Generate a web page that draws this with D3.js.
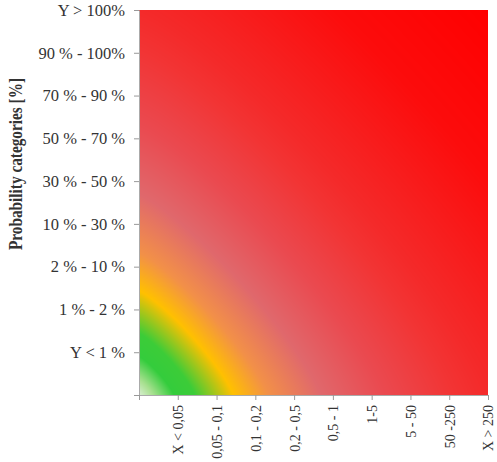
<!DOCTYPE html>
<html><head><meta charset="utf-8">
<script src="https://cdn.jsdelivr.net/npm/d3@7"></script>
<style>
html,body{margin:0;padding:0;background:#fff;}
text{font-family:"Liberation Serif","Times New Roman",serif;fill:#333;}
</style></head>
<body>
<svg id="c" width="497" height="462"></svg>
<script>
// Data
const xCategories = ["X < 0,05","0,05 - 0,1","0,1 - 0,2","0,2 - 0,5","0,5 - 1","1-5","5 - 50","50 -250","X > 250"];
const yCategories = ["Y < 1 %","1 % - 2 %","2 % - 10 %","10 % - 30 %","30 % - 50 %","50 % - 70 %","70 % - 90 %","90 % - 100%","Y > 100%"];
const yTitle = "Probability categories [%]";
// risk colour scale: combined (x,y) severity from the low/low corner -> colour
const riskLevels = [0, 0.04, 0.1, 0.16, 0.27, 0.37, 0.52, 0.7, 0.9, 1.0, 1.4, 1.78];
const riskColors = ["#d8eed0","#a8e090","#34cc3c","#3ccc38","#ffc000","#f29048","#e0686c","#ea4a50","#f23434","#f42a2a","#fc0c0c","#ff0000"];
const riskExponent = 1.2;

const svg = d3.select("#c");
const pLeft = 139, pRight = 488, pTop = 10, pBottom = 395;

const x = d3.scalePoint().domain([""].concat(xCategories)).range([pLeft, pRight]);
const y = d3.scalePoint().domain([""].concat(yCategories)).range([pBottom, pTop]);

const x0 = x(""), x1 = x(xCategories[xCategories.length-1]);
const y0 = y(""), y1 = y(yCategories[yCategories.length-1]);
const W = Math.round(x1 - x0), H = Math.round(y0 - y1);

// normalised position scales inside the plot
const u = d3.scaleLinear().domain([x0, x1]).range([0, 1]);
const v = d3.scaleLinear().domain([y0, y1]).range([0, 1]);
const color = d3.scaleLinear().domain(riskLevels).range(riskColors)
  .interpolate(d3.interpolateRgb).clamp(true);

const cv = document.createElement("canvas");
cv.width = W; cv.height = H;
const ctx = cv.getContext("2d");
const img = ctx.createImageData(W, H);
for (let j = 0; j < H; j++) {
  const vy = v(y1 + j + 0.5);
  for (let i = 0; i < W; i++) {
    const ux = u(x0 + i + 0.5);
    const r = Math.pow(Math.pow(ux, riskExponent) + Math.pow(vy, riskExponent), 1 / riskExponent);
    const c = d3.rgb(color(r));
    const k = (j * W + i) * 4;
    img.data[k] = c.r; img.data[k+1] = c.g; img.data[k+2] = c.b; img.data[k+3] = 255;
  }
}
ctx.putImageData(img, 0, 0);

svg.append("image")
  .attr("x", x0).attr("y", y1).attr("width", W).attr("height", H)
  .attr("preserveAspectRatio","none")
  .attr("href", cv.toDataURL("image/png"));

// Y axis
const yAxis = svg.append("g").attr("transform",`translate(${pLeft},0)`)
  .call(d3.axisLeft(y).tickSize(5).tickPadding(9).tickSizeOuter(0));
yAxis.selectAll("text").attr("font-size","16.5px").attr("fill","#333")
  .attr("font-family","Liberation Serif, serif");
yAxis.select(".domain").attr("stroke","#aaa");
yAxis.selectAll(".tick line").attr("stroke","#999");

// X axis
const xAxis = svg.append("g").attr("transform",`translate(0,${pBottom})`)
  .call(d3.axisBottom(x).tickSize(5).tickPadding(9).tickSizeOuter(0));
xAxis.select(".domain").attr("stroke","#aaa");
xAxis.selectAll(".tick line").attr("stroke","#999");
xAxis.selectAll("text")
  .attr("font-size","14px").attr("fill","#333")
  .attr("font-family","Liberation Serif, serif")
  .attr("text-anchor","end")
  .attr("transform","rotate(-90)")
  .attr("x",-10).attr("y",0).attr("dy","0.35em");

// Y title
svg.append("text")
  .attr("transform",`translate(22,164) rotate(-90)`)
  .attr("text-anchor","middle")
  .attr("font-weight","bold")
  .attr("font-size","18px")
  .attr("textLength",172).attr("lengthAdjust","spacingAndGlyphs")
  .attr("fill","#111")
  .text(yTitle);
</script>
</body></html>
